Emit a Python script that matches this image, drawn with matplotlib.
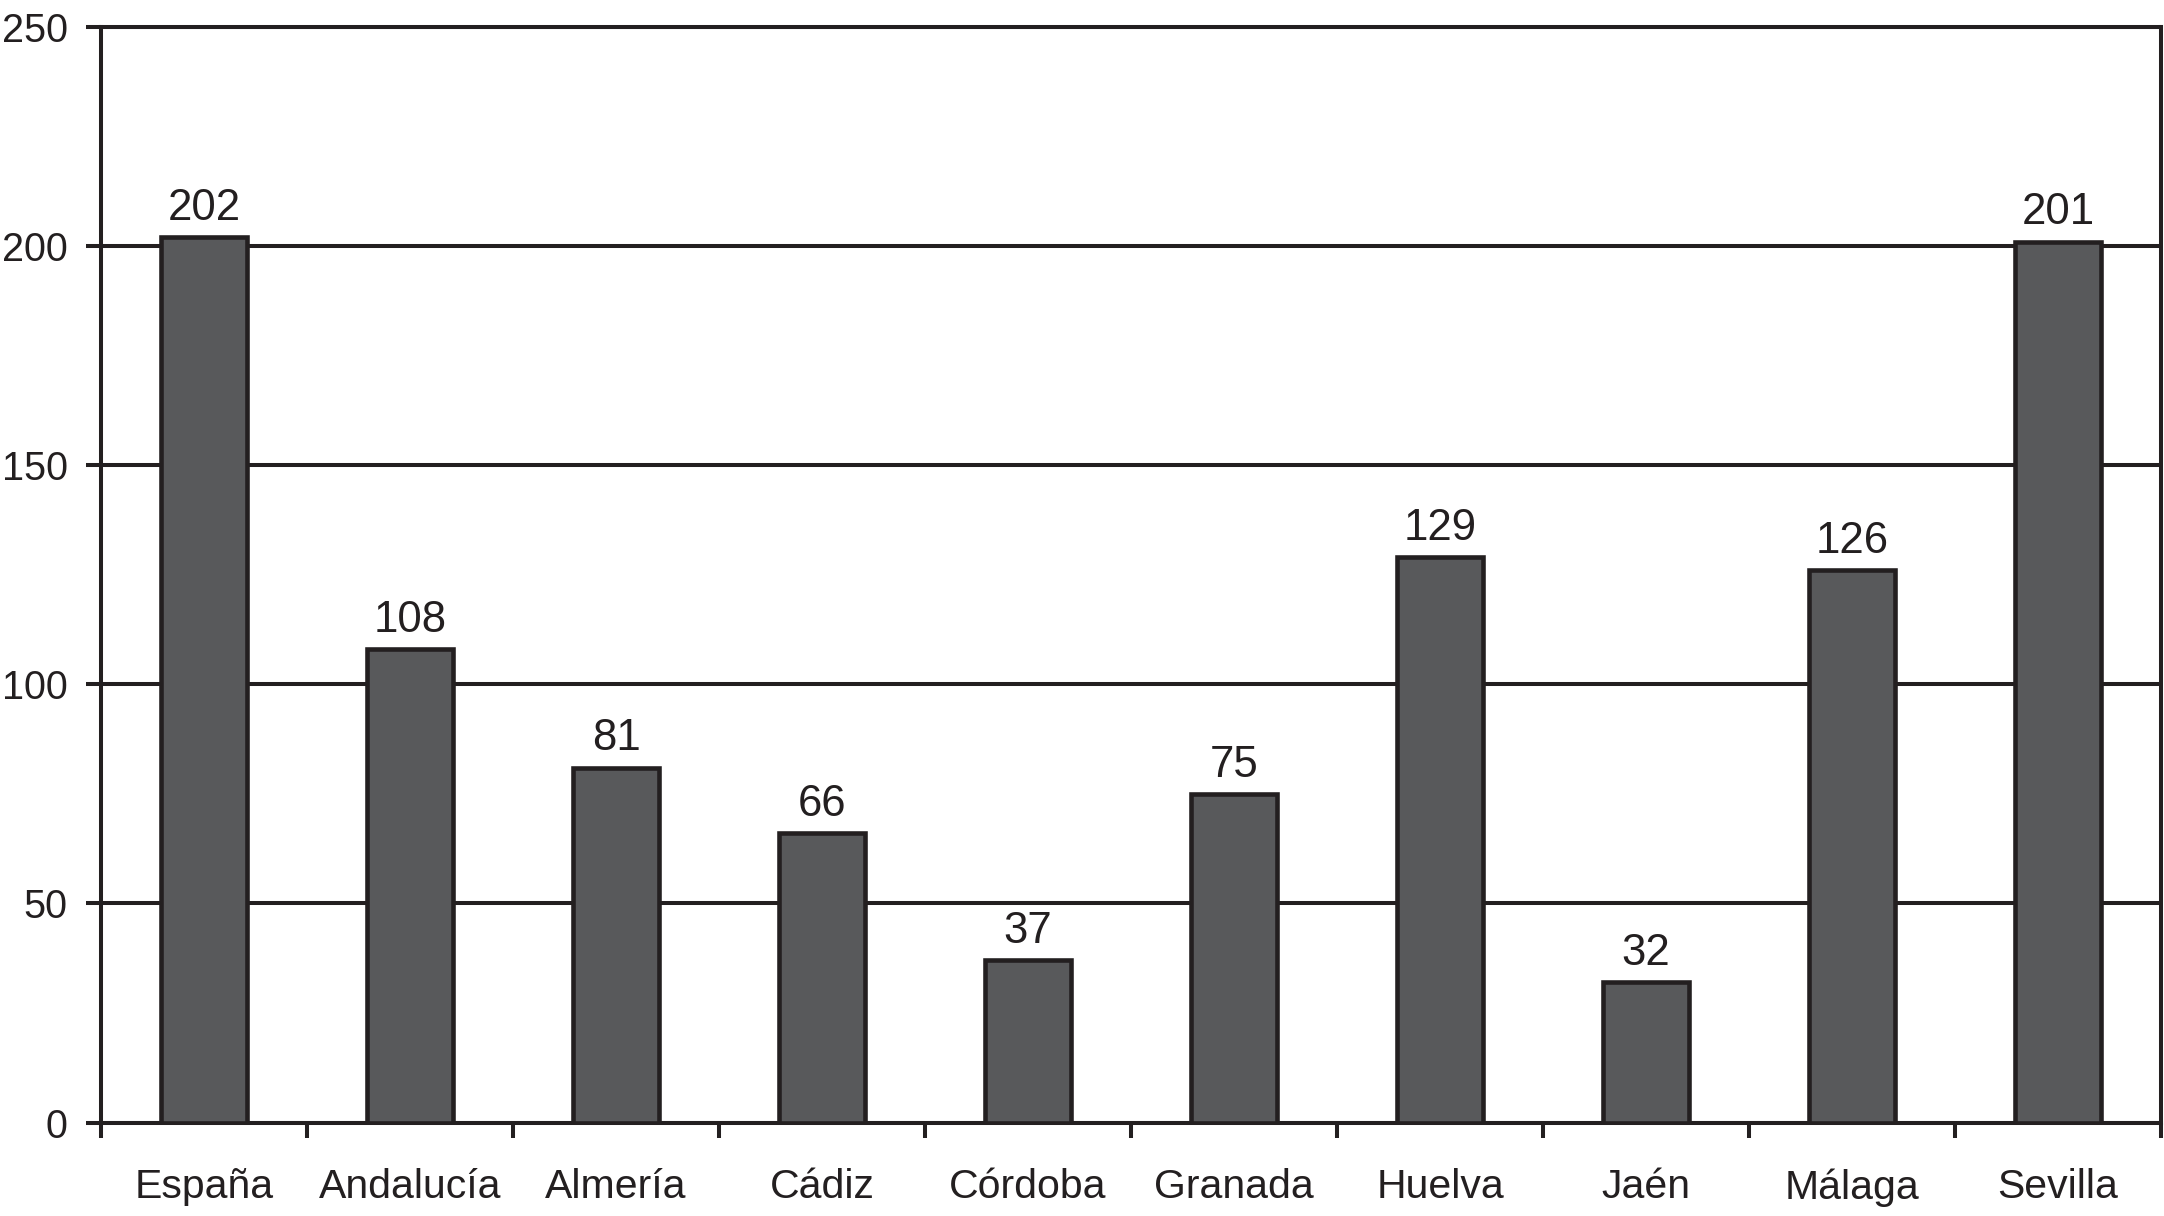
import matplotlib
matplotlib.use("Agg")
import matplotlib.pyplot as plt
import numpy as np

categories = ["España", "Andalucía", "Almería", "Cádiz", "Córdoba",
              "Granada", "Huelva", "Jaén", "Málaga", "Sevilla"]
values = [202, 108, 81, 66, 37, 75, 129, 32, 126, 201]
yticks = [0, 50, 100, 150, 200, 250]

plt.rcParams['font.family'] = ['Liberation Sans', 'DejaVu Sans']

W, H, DPI = 2164, 1216, 100
fig = plt.figure(figsize=(W / DPI, H / DPI), dpi=DPI)
ax = fig.add_axes([101 / W, 1 - 1122.5 / H, (2161 - 101) / W, (1122.5 - 27) / H])

ink = "#231f20"
lw = 2.9
x = np.arange(len(categories))
bars = ax.bar(x, values, width=0.42, color="#58595b", edgecolor=ink,
              linewidth=3.3, zorder=3)

for xi, v in zip(x, values):
    ax.annotate(str(v), (xi, v), xytext=(0, 6), textcoords="offset points",
                ha="center", va="bottom", fontsize=31.5, color=ink, zorder=4)

ax.set_xlim(-0.5, len(categories) - 0.5)
ax.set_ylim(0, 250)
ax.set_yticks(yticks)
ax.set_yticklabels([str(t) for t in yticks])
ax.yaxis.grid(True, color=ink, linewidth=lw, zorder=1)
ax.set_axisbelow(True)

ax.set_xticks(x)
ax.set_xticklabels(categories)
ax.set_xticks(np.arange(-0.5, len(categories)), minor=True)
ax.tick_params(axis="x", which="major", length=0, pad=33, labelsize=29.5,
               colors=ink)
ax.tick_params(axis="x", which="minor", length=11, width=lw, color=ink,
               direction="out")
ax.tick_params(axis="y", which="major", length=11, width=lw, color=ink,
               direction="out", pad=13, labelsize=28.5, labelcolor=ink)

for s in ax.spines.values():
    s.set_color(ink)
    s.set_linewidth(lw)

fig.savefig("out.png", dpi=DPI, facecolor="white")
